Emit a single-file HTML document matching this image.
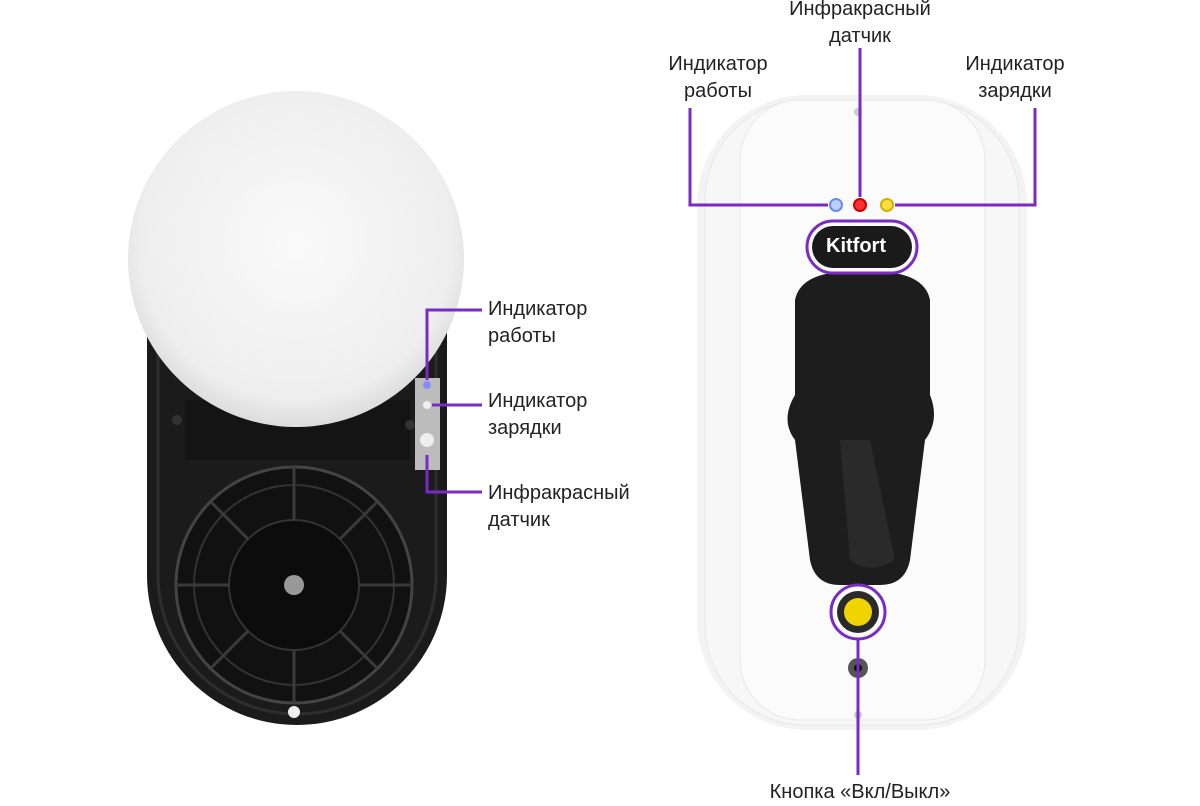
<!DOCTYPE html>
<html><head><meta charset="utf-8"><style>
body{margin:0;width:1200px;height:800px;background:#fff;position:relative;overflow:hidden;font-family:"Liberation Sans",sans-serif}
.t{position:absolute;font-size:20px;line-height:27px;color:#222;white-space:nowrap}
.c{text-align:center}
</style></head><body>
<svg width="1200" height="800" style="position:absolute;left:0;top:0">
<defs>
<radialGradient id="fl" cx="50%" cy="45%" r="55%"><stop offset="0" stop-color="#fafafa"/><stop offset="0.85" stop-color="#eeeeee"/><stop offset="1" stop-color="#dcdcdc"/></radialGradient>
</defs>
<!-- left device -->
<path d="M147 300 H447 V575 A150 150 0 0 1 147 575 Z" fill="#1b1b1b"/>
<path d="M158 330 H436 V575 A139 139 0 0 1 158 575 Z" fill="none" stroke="#2e2e2e" stroke-width="3"/>
<rect x="185" y="400" width="225" height="60" fill="#141414"/>
<circle cx="294" cy="585" r="118" fill="#111" stroke="#444" stroke-width="3"/>
<circle cx="294" cy="585" r="100" fill="none" stroke="#333" stroke-width="2"/>
<circle cx="294" cy="585" r="65" fill="#0c0c0c" stroke="#333" stroke-width="2"/>
<g stroke="#3a3a3a" stroke-width="3">
<line x1="294" y1="467" x2="294" y2="520"/><line x1="294" y1="650" x2="294" y2="703"/>
<line x1="176" y1="585" x2="229" y2="585"/><line x1="359" y1="585" x2="412" y2="585"/>
<line x1="211" y1="502" x2="248" y2="539"/><line x1="340" y1="631" x2="377" y2="668"/>
<line x1="377" y1="502" x2="340" y2="539"/><line x1="248" y1="631" x2="211" y2="668"/>
</g>
<circle cx="294" cy="585" r="10" fill="#999"/>
<circle cx="294" cy="712" r="6" fill="#eee"/>
<circle cx="177" cy="420" r="5" fill="#333"/><circle cx="410" cy="425" r="5" fill="#333"/>
<rect x="415" y="378" width="25" height="92" fill="#bcbcbc"/>
<circle cx="427" cy="385" r="4" fill="#8b8bff"/>
<circle cx="427" cy="405" r="4" fill="#eee"/>
<circle cx="427" cy="440" r="7" fill="#eee"/>
<circle cx="296" cy="259" r="168" fill="url(#fl)"/>
<!-- left lines -->
<g stroke="#7a2bc4" stroke-width="3" fill="none">
<path d="M427 380 V310 H482"/>
<path d="M432 405 H482"/>
<path d="M427 455 V492 H482"/>
</g>
<!-- right device -->
<rect x="697" y="95" width="330" height="635" rx="110" fill="#f3f3f3"/>
<rect x="705" y="100" width="314" height="625" rx="100" fill="#f7f7f7" stroke="#e6e6e6"/>
<rect x="740" y="100" width="245" height="620" rx="60" fill="#fbfbfb" stroke="#e8e8e8"/>
<rect x="768" y="200" width="190" height="40" fill="none"/>
<path d="M795 300 Q800 275 840 272 H885 Q925 275 930 300 V395 Q940 420 925 440 L910 560 Q905 585 880 585 H840 Q815 585 810 560 L795 440 Q780 420 795 395 Z" fill="#1d1d1d"/>
<path d="M840 440 L870 440 L895 560 Q870 575 850 560 Z" fill="#2a2a2a"/>
<rect x="812" y="226" width="100" height="42" rx="21" fill="#1a1a1a"/>
<rect x="807" y="221" width="110" height="52" rx="26" fill="none" stroke="#7a2bc4" stroke-width="3"/>
<circle cx="858" cy="612" r="27" fill="none" stroke="#7a2bc4" stroke-width="3"/>
<circle cx="858" cy="612" r="21" fill="#2a2a2a"/>
<circle cx="858" cy="612" r="14" fill="#f0d400"/>
<circle cx="858" cy="668" r="10" fill="#555"/><circle cx="858" cy="668" r="4" fill="#111"/>
<circle cx="858" cy="715" r="4" fill="#ccc"/><circle cx="858" cy="112" r="4" fill="#ccc"/>
<circle cx="836" cy="205" r="6" fill="#bcd0ff" stroke="#6a8cf0" stroke-width="2"/>
<circle cx="860" cy="205" r="6" fill="#ff3030" stroke="#c00" stroke-width="2"/>
<circle cx="887" cy="205" r="6" fill="#ffe040" stroke="#d0b000" stroke-width="2"/>
<g stroke="#7a2bc4" stroke-width="3" fill="none">
<path d="M828 205 H690 V108"/>
<path d="M860 197 V48"/>
<path d="M895 205 H1035 V108"/>
<path d="M858 640 V775"/>
</g>
</svg>
<div class="t" style="left:488px;top:296px">Индикатор<br>работы</div>
<div class="t" style="left:488px;top:388px">Индикатор<br>зарядки</div>
<div class="t" style="left:488px;top:480px">Инфракрасный<br>датчик</div>
<div class="t c" style="left:618px;top:51px;width:200px">Индикатор<br>работы</div>
<div class="t c" style="left:760px;top:-4px;width:200px">Инфракрасный<br>датчик</div>
<div class="t c" style="left:915px;top:51px;width:200px">Индикатор<br>зарядки</div>
<div class="t c" style="left:710px;top:779px;width:300px">Кнопка «Вкл/Выкл»</div>
<div class="t" style="left:826px;top:233px;color:#fff;font-weight:bold;font-size:20px">Kitfort</div>
</body></html>
